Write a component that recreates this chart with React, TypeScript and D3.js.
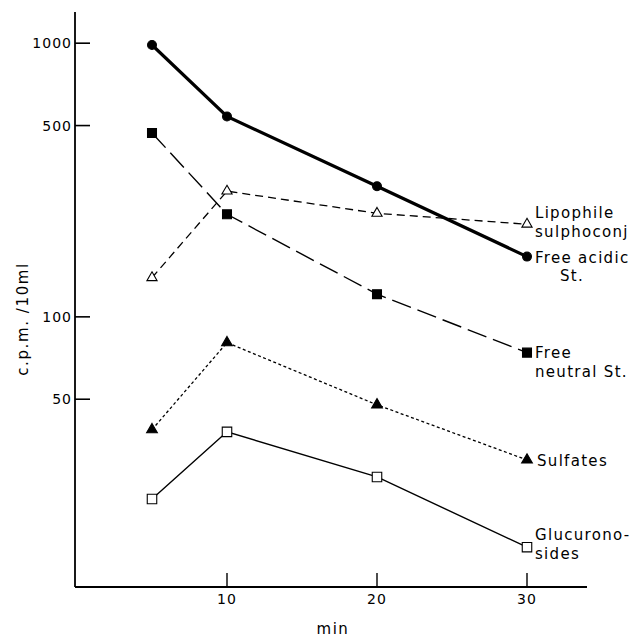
import React from 'react';
import * as d3 from 'd3';

// sampling times (min)
const times = [5, 10, 20, 30];

// c.p.m. / 10 ml
const freeAcidic = [985, 540, 300, 166];
const freeNeutral = [470, 237, 121, 74];
const lipophile = [139, 288, 239, 218];
const sulfates = [38.7, 80.5, 47.7, 30.0];
const glucuronides = [21.6, 38.0, 26.0, 14.4];

const xTicks = [10, 20, 30];
const yTicks = [50, 100, 500, 1000];

const series = [
  { name: 'acidic', values: freeAcidic, width: 3.2, dash: null, symbol: d3.symbolCircle, size: 62, fill: '#000',
    label: [{ text: 'Free acidic', dx: 8, dy: 6 }, { text: 'St.', dx: 33, dy: 24 }] },
  { name: 'neutral', values: freeNeutral, width: 1.4, dash: '20,7', symbol: d3.symbolSquare, size: 80, fill: '#000',
    label: [{ text: 'Free', dx: 8, dy: 5 }, { text: 'neutral St.', dx: 8, dy: 24 }] },
  { name: 'lipophile', values: lipophile, width: 1.3, dash: '8,5', symbol: d3.symbolTriangle, size: 45, fill: '#fff',
    label: [{ text: 'Lipophile', dx: 8, dy: -6 }, { text: 'sulphoconj', dx: 8, dy: 13 }] },
  { name: 'sulfates', values: sulfates, width: 1.3, dash: '3,2.5', symbol: d3.symbolTriangle, size: 50, fill: '#000',
    label: [{ text: 'Sulfates', dx: 10, dy: 6 }] },
  { name: 'gluc', values: glucuronides, width: 1.4, dash: null, symbol: d3.symbolSquare, size: 90, fill: '#fff',
    label: [{ text: 'Glucurono-', dx: 8, dy: -7 }, { text: 'sides', dx: 8, dy: 12 }] },
];

const font = '"DejaVu Sans", sans-serif';

export default function App() {
  const x = d3.scaleLinear().domain([0, 34]).range([77, 587]);
  const y = d3.scaleLog().domain([10.3, 1300]).range([587, 12]);
  const line = d3.line<number>()
    .x((_, i) => x(times[i]))
    .y(d => y(d));

  const x0 = x(0) - 2;
  const yBottom = y.range()[0];

  return (
    <svg width={637} height={637} style={{ position: 'absolute', left: 0, top: 0, background: '#fff' }}>
      {/* axes */}
      <line x1={x0} x2={x0} y1={y.range()[1]} y2={yBottom} stroke="#000" strokeWidth={1.8} />
      <line x1={x0} x2={x.range()[1]} y1={yBottom} y2={yBottom} stroke="#000" strokeWidth={1.8} />
      {yTicks.map(t => (
        <g key={t}>
          <line x1={x0} x2={x0 + 15} y1={y(t)} y2={y(t)} stroke="#000" strokeWidth={1.6} />
          <text x={x0 - 3} y={y(t)} dy="0.36em" textAnchor="end" fontFamily={font} fontSize={14} letterSpacing={1}>{t}</text>
        </g>
      ))}
      {xTicks.map(t => (
        <g key={t}>
          <line x1={x(t)} x2={x(t)} y1={yBottom} y2={yBottom - 14} stroke="#000" strokeWidth={1.4} />
          <text x={x(t)} y={yBottom + 17} textAnchor="middle" fontFamily={font} fontSize={14} letterSpacing={1}>{t}</text>
        </g>
      ))}
      <text x={333} y={634} textAnchor="middle" fontFamily={font} fontSize={15} letterSpacing={1.5}>min</text>
      <text transform={`translate(28, 319) rotate(-90)`} textAnchor="middle" fontFamily={font} fontSize={15} letterSpacing={1.6}>c.p.m. /10ml</text>

      {series.map(s => (
        <g key={s.name}>
          <path d={line(s.values) || ''} fill="none" stroke="#000" strokeWidth={s.width}
            strokeDasharray={s.dash || undefined} />
          {s.values.map((v, i) => (
            <path key={i} d={d3.symbol(s.symbol, s.size)() || ''}
              transform={`translate(${x(times[i])},${y(v)})`}
              fill={s.fill} stroke="#000" strokeWidth={1.1} />
          ))}
          {s.label.map((l, i) => (
            <text key={i} x={x(times[times.length - 1]) + l.dx} y={y(s.values[s.values.length - 1]) + l.dy}
              fontFamily={font} fontSize={15} letterSpacing={1.3}>{l.text}</text>
          ))}
        </g>
      ))}
    </svg>
  );
}
